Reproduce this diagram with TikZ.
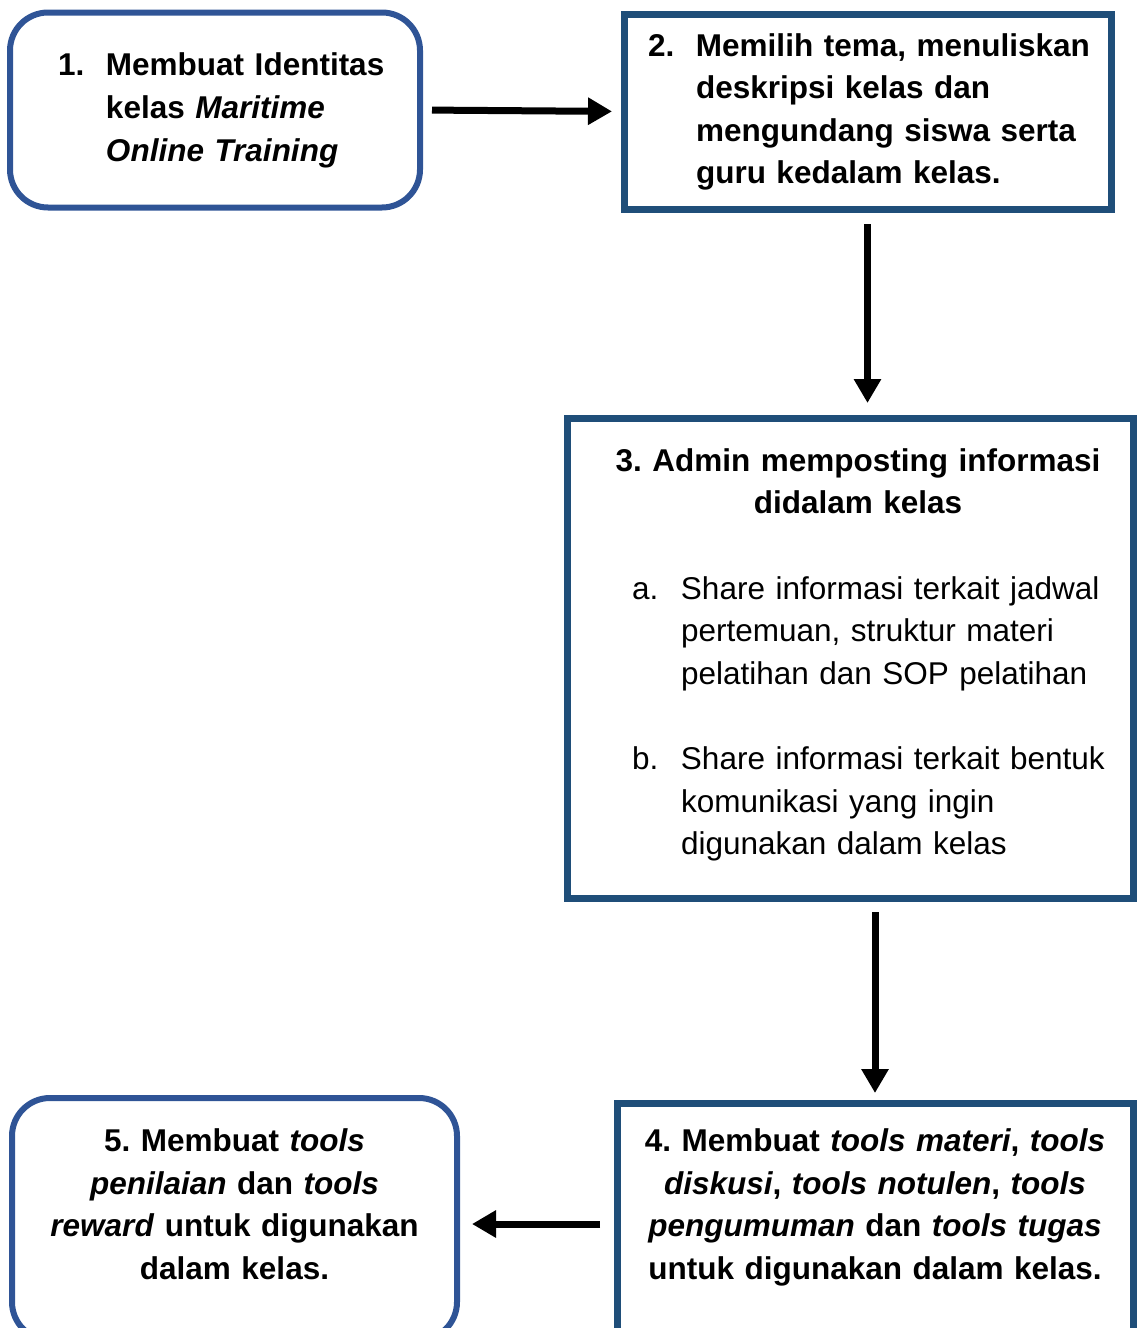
\documentclass[tikz,border=0pt]{standalone}
\usepackage{fontspec}
\setmainfont{Liberation Sans}
\usetikzlibrary{arrows.meta}
\definecolor{roundblue}{RGB}{47,84,150}
\definecolor{squareblue}{RGB}{31,78,121}
\frenchspacing
\tikzset{
  boxfont/.style={font=\fontsize{31.5pt}{42.6pt}\selectfont},
  roundbox/.style={draw=roundblue, line width=6pt, rounded corners=38pt, inner sep=0pt, outer sep=0pt, boxfont},
  squarebox/.style={draw=squareblue, line width=7pt, inner sep=0pt, outer sep=0pt, boxfont},
  flowarrow/.style={line width=7pt, -{Triangle[length=24pt,width=26pt]}},
}

\begin{document}
\begin{tikzpicture}[x=1pt,y=-1pt]
    \useasboundingbox (0,0) rectangle (1136,1328);

    \node[roundbox, minimum height=195pt, text width=410pt, align=left] (identitas) at (215,110)
        {\bfseries\hspace*{48pt}\begin{tabular}{@{}p{48pt}@{}l@{}}
         1. & Membuat Identitas\\
            & kelas \textit{Maritime}\\
            & \textit{Online Training}
         \end{tabular}};
    \node[squarebox, minimum height=195pt, text width=487pt, align=left] (tema) at (867.5,111.5)
        {\bfseries\hspace*{24pt}\begin{tabular}{@{}p{48pt}@{}l@{}}
         2. & Memilih tema, menuliskan\\
            & deskripsi kelas dan\\
            & mengundang siswa serta\\
            & guru kedalam kelas.
         \end{tabular}};
    \node[squarebox, minimum height=480pt, text width=566pt, align=center] (posting) at (850,658)
        {\hspace*{16pt}\textbf{3. Admin memposting informasi}\\
         \hspace*{16pt}\textbf{didalam kelas}\\[42.6pt]
         \makebox[566pt][l]{\hspace*{65pt}\begin{tabular}[t]{@{}p{49pt}@{}l@{}}
         a. & Share informasi terkait jadwal\\
            & pertemuan, struktur materi\\
            & pelatihan dan SOP pelatihan\\
            & \\
         b. & Share informasi terkait bentuk\\
            & komunikasi yang ingin\\
            & digunakan dalam kelas
         \end{tabular}}};
    \node[squarebox, minimum height=250pt, text width=516pt, align=center] (tools) at (875,1228)
        {\bfseries 4. Membuat \textit{tools materi}, \textit{tools}\\
         \textit{diskusi}, \textit{tools notulen}, \textit{tools}\\
         \textit{pengumuman} dan \textit{tools tugas}\\
         untuk digunakan dalam kelas.\rule[-48pt]{0pt}{48pt}};
    \node[roundbox, minimum height=242pt, text width=445pt, align=center] (penilaian) at (234.5,1219)
        {\bfseries 5. Membuat \textit{tools}\\
         \textit{penilaian} dan \textit{tools}\\
         \textit{reward} untuk digunakan\\
         dalam kelas.\rule[-30pt]{0pt}{30pt}};

    \coordinate (kembali) at (0,1224);
    \draw[flowarrow, shorten <=12pt, shorten >=12pt] (identitas.east) -- (tema.west);
    \draw[flowarrow, shorten <=15pt, shorten >=15pt] (tema.south) -- (tema.south |- posting.north);
    \draw[flowarrow, shorten <=14pt, shorten >=10pt] (tools.north |- posting.south) -- (tools.north);
    \draw[flowarrow, shorten <=17pt, shorten >=15pt] (tools.west |- kembali) -- (penilaian.east |- kembali);
\end{tikzpicture}
\end{document}
